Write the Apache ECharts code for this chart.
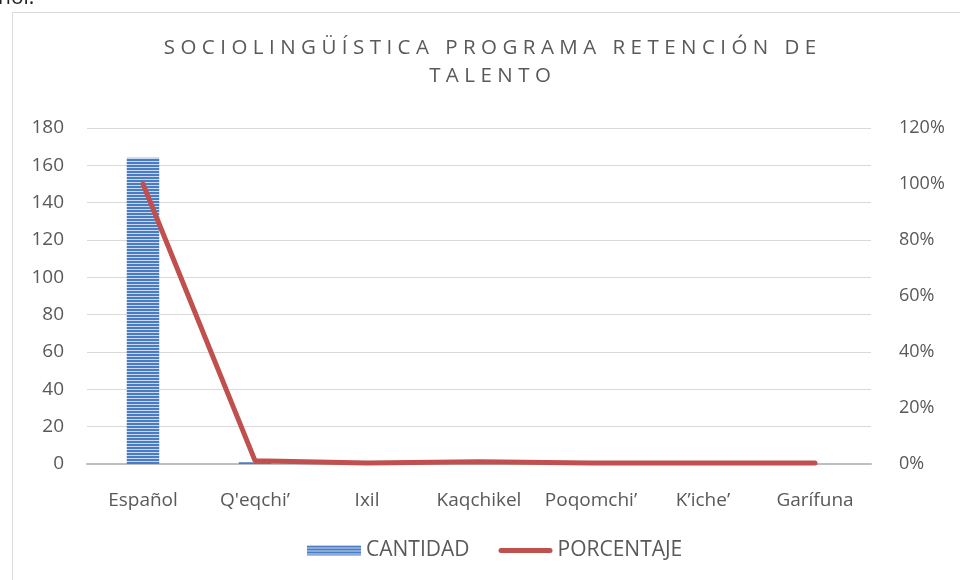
<!DOCTYPE html>
<html>
<head>
<meta charset="utf-8">
<script src="https://cdn.jsdelivr.net/npm/echarts@6/dist/echarts.min.js"></script>
<style>
  html, body { margin: 0; padding: 0; background: #fff; }
  #chart { width: 960px; height: 580px; }
</style>
</head>
<body>
<div id="chart"></div>
<script>
// datos
const categorias = ['Español', "Q'eqchi’", 'Ixil', 'Kaqchikel', 'Poqomchi’', 'K’iche’', 'Garífuna'];
const cantidad = [164, 1, 0, 1, 0, 0, 0];
const porcentaje = [1.0, 0.012, 0.004, 0.008, 0.004, 0.004, 0.004];
const ticksIzq = [0, 20, 40, 60, 80, 100, 120, 140, 160, 180];
const ticksDer = [0, 0.2, 0.4, 0.6, 0.8, 1.0, 1.2];

const titulo1 = 'SOCIOLINGÜÍSTICA PROGRAMA RETENCIÓN DE';
const titulo2 = 'TALENTO';

// espaciado entre letras (como en Excel)
function espaciar(t) {
    const sep = '\u2009\u200A';
    return t.split(' ').map(w => w.split('').join(sep)).join(sep + ' ' + sep);
}

// relleno rayado de las barras
function rayas() {
    let c = document.createElement('canvas');
    c.width = 1;
    c.height = 3;
    let ctx = c.getContext('2d');
    ctx.fillStyle = '#4a7cc3';
    ctx.fillRect(0, 0, 1, 2);
    ctx.fillStyle = '#c9d8ef';
    ctx.fillRect(0, 2, 1, 1);
    return { image: c, repeat: 'repeat' };
}

const gris = '#595959';
const fuente = '"Open Sans", Lato, sans-serif';

let mychart = echarts.init(document.getElementById('chart'));
mychart.setOption({
    backgroundColor: '#fff',
    animation: false,
    textStyle: { fontFamily: fuente },
    title: {
        text: espaciar(titulo1) + '\n' + espaciar(titulo2),
        left: 485,
        textAlign: 'center',
        top: 29,
        textStyle: {
            fontFamily: fuente,
            fontSize: 20.5,
            fontWeight: 'normal',
            color: gris,
            lineHeight: 28
        }
    },
    graphic: [
        {
            type: 'rect',
            shape: { x: 12.5, y: 12.5, width: 960, height: 580 },
            style: { fill: 'none', stroke: '#d9d9d9', lineWidth: 1 },
            silent: true
        },
        {
            type: 'text',
            left: -2,
            top: -12,
            style: { text: 'ñol.', font: '21px ' + fuente, fill: '#222' },
            silent: true
        }
    ],
    legend: {
        top: 535,
        left: 302,
        itemGap: 29,
        itemWidth: 54,
        itemHeight: 10,
        textStyle: { fontSize: 21, color: gris, fontFamily: fuente },
        data: [
            { name: 'CANTIDAD', icon: 'rect' },
            { name: 'PORCENTAJE', icon: 'path://M2.5,0 L51.5,0 A2.5,2.5 0 0 1 51.5,5 L2.5,5 A2.5,2.5 0 0 1 2.5,0 Z' }
        ]
    },
    grid: {
        left: 87,
        right: 89,
        top: 128,
        bottom: 116
    },
    xAxis: {
        type: 'category',
        data: categorias,
        axisLine: { lineStyle: { color: '#bfbfbf', width: 2 } },
        axisTick: { show: false },
        axisLabel: { fontSize: 19, color: gris, margin: 27, interval: 0 }
    },
    yAxis: [
        {
            type: 'value',
            min: ticksIzq[0],
            max: ticksIzq[ticksIzq.length - 1],
            interval: 20,
            axisLine: { show: false },
            axisTick: { show: false },
            axisLabel: { fontSize: 19, color: gris, margin: 23 },
            splitLine: { lineStyle: { color: '#d9d9d9', width: 1 } }
        },
        {
            type: 'value',
            min: ticksDer[0],
            max: ticksDer[ticksDer.length - 1],
            interval: 0.2,
            axisLine: { show: false },
            axisTick: { show: false },
            splitLine: { show: false },
            axisLabel: {
                fontSize: 18,
                color: gris,
                margin: 28,
                formatter: v => Math.round(v * 100) + '%'
            }
        }
    ],
    series: [
        {
            name: 'CANTIDAD',
            type: 'bar',
            data: cantidad,
            barWidth: '29%',
            itemStyle: { color: rayas() }
        },
        {
            name: 'PORCENTAJE',
            type: 'line',
            yAxisIndex: 1,
            data: porcentaje,
            symbol: 'none',
            lineStyle: { color: '#c0504d', width: 5, cap: 'round' },
            itemStyle: { color: '#c0504d' }
        }
    ]
});
</script>
</body>
</html>
